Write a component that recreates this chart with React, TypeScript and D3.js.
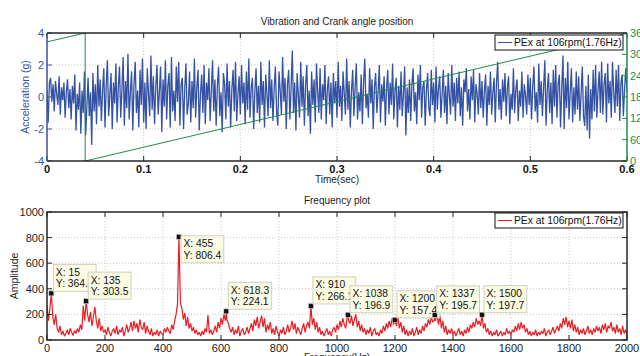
import React from "react";
import * as d3 from "d3";

// vibration samples, 0.00125 s apart
const timeStep = 0.00125;
const accel = [
  0.4, -1.6, 0.9, 1.2, -0.3, 0.8, -0.9, 1.0, 0.2, -0.5, 1.3, -1.1, 0.6, -0.2, 0.9, -1.3, 0.3, 1.1, -0.7, 0.5,
  -1.4, 0.7, -0.4, 1.4, -2.1, 0.2, -0.8, 0.9, -2.3, 0.4, -1.0, 1.6, -2.4, -0.6, 1.2, -1.2, 0.3, -3.0, 1.5, -0.9,
  0.8, -1.7, 2.0, -0.6, 1.1, -1.5, 0.4, 1.8, -1.9, 0.7, 2.3, -1.2, 0.1, 1.5, -2.0, 0.9, -0.4, 2.1, -1.6, 0.6,
  1.9, -1.3, 0.5, 2.5, -1.8, 1.0, -0.7, 2.7, -1.4, 0.3, 1.6, -2.1, 0.8, 2.2, -1.0, 0.4, -1.9, 1.7, -0.5, 2.4,
  -1.6, 0.9, -2.0, 1.8, 0.2, -1.2, 2.6, -0.8, 1.3, -1.7, 0.6, 2.0, -1.1, 0.3, 1.9, -2.2, 1.1, -0.6, 2.3, -1.4,
  0.7, 1.5, -1.9, 2.5, -0.9, 0.4, -1.5, 1.9, -0.3, 2.2, -1.8, 0.8, 1.2, -2.0, 0.5, 2.1, -1.1, -0.4, 1.6, -1.6,
  1.0, -0.7, 2.4, -1.3, 0.6, 1.7, -2.1, 0.2, 1.4, -1.0, 2.0, -1.7, 0.9, -0.2, 1.8, -1.5, 0.4, 2.3, -0.9, 1.1,
  -1.8, 0.7, 1.9, -1.2, 0.3, -2.2, 1.5, 0.8, -1.4, 2.1, -0.6, 1.0, -1.9, 0.5, 1.7, -0.9, 2.2, -1.5, 0.2, 1.3,
  -1.1, 2.0, -0.4, 0.9, -1.7, 1.6, -0.8, 2.4, -1.3, 0.6, 1.2, -2.0, 0.3, 1.8, -1.0, 0.7, -1.6, 2.2, -0.5, 1.0,
  -1.9, 1.4, 0.2, -1.2, 2.3, -0.7, 1.1, -1.5, 0.5, 1.9, -0.9, -1.8, 1.6, 0.4, -1.1, 2.5, -0.3, 1.2, -2.0, 0.8,
  1.7, -1.4, 0.6, 2.9, -1.0, 0.9, -2.1, 1.5, 0.1, -1.3, 2.2, -0.6, 1.3, -1.8, 0.7, 2.0, -1.2, 0.4, -2.3, 1.6,
  -0.5, 1.1, -1.6, 2.1, 0.3, -1.0, 1.8, -1.4, 0.8, -0.2, 2.0, -1.7, 0.5, 1.3, -1.1, 0.9, -1.9, 1.5, -0.4, 1.0,
  -1.3, 2.2, -0.6, 0.7, -1.5, 1.6, 0.2, -1.1, 2.4, -0.8, 1.0, -1.9, 0.4, 1.7, -1.2, 0.6, 2.1, -1.4, 0.3, -0.9,
  1.4, -1.7, 0.9, 2.4, -0.7, 0.2, -1.3, 1.8, -0.4, 1.1, -2.0, 0.6, 1.5, -1.0, 0.3, 2.0, -1.6, 0.8, -0.3, 1.3,
  -1.8, 0.5, 1.7, -1.1, 0.9, -0.5, 2.1, -1.4, 0.4, 1.2, -1.9, 0.7, -0.8, 1.6, -1.2, 0.2, 1.9, -2.4, 0.6, -1.0,
  1.1, -1.5, 0.8, 1.8, -0.9, 0.3, -1.7, 1.4, -0.2, 2.0, -1.3, 0.6, 1.0, -1.8, 0.4, 1.5, -0.7, -1.2, 1.7, -0.5,
  0.9, -1.6, 1.9, -0.8, 0.5, 1.3, -1.3, 0.2, 1.7, -1.0, 0.7, -1.7, 1.5, 0.1, -1.1, 2.0, -0.6, 0.9, -1.5, 1.2,
  -0.4, 1.6, -1.2, 0.6, -1.8, 1.1, 0.3, 1.8, -0.9, 0.5, -1.4, 1.3, -0.2, 1.7, -1.6, 0.8, 0.2, -1.1, 1.5, -0.7,
  1.0, -1.3, 0.4, 1.4, -1.8, 0.7, -0.5, 1.6, -1.1, 0.3, 1.2, -1.6, 0.9, 2.2, -0.8, 0.5, -1.4, 1.1, -0.3, 1.5,
  -1.2, 0.6, 1.3, -1.7, 0.2, -0.8, 1.8, -1.0, 0.5, 1.1, -1.5, 0.4, -0.6, 1.6, -1.3, 0.8, 0.1, -1.1, 1.4, -0.5,
  1.2, -1.4, 0.7, 1.9, -0.9, 0.3, -1.6, 2.1, -0.5, 1.0, -1.2, 0.6, 2.3, -1.8, 0.4, 1.5, -1.0, 0.9, -1.7, 1.7,
  -0.6, 2.0, -1.3, 0.8, 1.4, -1.9, 0.5, 2.6, -2.0, 1.2, -0.7, 2.2, -1.4, 0.3, 1.8, -1.6, 0.6, -1.1, 1.6, -0.8,
  1.3, -1.5, 0.2, 1.9, -1.2, -1.8, 0.7, -2.1, 1.4, -2.6, 0.5, -1.4, 1.7, -0.9, 2.0, -1.3, 0.4, 1.6, -1.0, 2.2,
  -1.1, 0.8, 1.5, -1.6, 2.1, -0.4, 1.0, -1.3, 2.2, 0.3, -1.0, 1.7, -0.6, 2.0, -1.5, 0.9, 1.4, -1.2, 0.5, 1.8,
  0.3,
];

// crank angle (deg) – sawtooth, wraps at 0.0395 s
const crankTime = [0, 0.0395, 0.0395, 0.6];
const crankAngle = [335, 360, 0, 359];

// spectrum amplitude, 5 Hz apart from 0 to 2000 Hz
const freqStep = 5;
const amplitude = [
  270, 150, 250, 364.4, 180, 120, 200, 90, 60, 110, 40, 70, 30, 50, 80, 40, 90, 60, 35, 75,
  50, 90, 60, 120, 80, 270, 150, 303.5, 200, 140, 220, 110, 180, 260, 150, 90, 170, 70, 110, 60,
  80, 40, 100, 60, 30, 70, 90, 50, 110, 40, 80, 60, 100, 30, 70, 120, 60, 90, 140, 70,
  150, 90, 130, 60, 160, 100, 80, 140, 50, 110, 70, 40, 90, 30, 60, 40, 80, 30, 70, 50,
  40, 90, 60, 100, 70, 50, 120, 80, 150, 200, 280, 806.4, 290, 250, 160, 210, 110, 180, 90, 130,
  70, 100, 50, 80, 40, 60, 30, 70, 40, 90, 60, 195, 50, 80, 40, 70, 110, 60, 140, 90,
  170, 120, 200, 150, 160, 130, 90, 60, 100, 40, 80, 50, 110, 30, 70, 90, 40, 60, 100, 50,
  90, 130, 70, 160, 110, 180, 90, 140, 190, 100, 170, 60, 120, 80, 140, 50, 90, 40, 110, 60,
  30, 80, 50, 100, 40, 70, 120, 60, 90, 150, 80, 130, 50, 100, 70, 40, 90, 130, 60, 110,
  140, 90, 266.1, 120, 170, 80, 140, 60, 100, 40, 70, 30, 60, 90, 40, 70, 30, 80, 100, 60,
  120, 80, 150, 100, 170, 120, 90, 180, 150, 130, 190, 110, 160, 200, 100, 150, 70, 120, 60, 90,
  40, 80, 50, 100, 30, 70, 90, 40, 60, 30, 80, 50, 110, 70, 130, 90, 150, 100, 170, 120,
  157.4, 110, 180, 90, 140, 60, 110, 40, 80, 30, 70, 40, 90, 30, 60, 100, 40, 80, 50, 110,
  70, 130, 100, 160, 120, 180, 140, 150, 150, 210, 120, 190, 90, 150, 60, 110, 40, 80, 50, 90,
  40, 70, 30, 60, 90, 40, 70, 30, 80, 50, 100, 60, 120, 90, 140, 100, 170, 120, 150, 110,
  197.7, 90, 130, 60, 90, 40, 70, 30, 60, 40, 80, 30, 50, 70, 30, 60, 40, 90, 50, 70,
  40, 80, 60, 110, 70, 130, 80, 140, 90, 120, 60, 90, 40, 70, 30, 60, 40, 80, 30, 60,
  40, 70, 50, 90, 30, 60, 80, 40, 70, 100, 50, 80, 110, 70, 130, 90, 170, 120, 180, 100,
  150, 90, 160, 70, 120, 60, 100, 40, 80, 50, 90, 40, 70, 110, 50, 80, 40, 90, 60, 110,
  70, 100, 50, 120, 80, 130, 60, 110, 90, 140, 70, 100, 50, 120, 60, 90, 40, 110, 50, 80,
  40,
];

// data tips placed on the spectrum
const tipFreq = [15, 135, 455, 618.3, 910, 1038, 1200, 1337, 1500];
const tipAmp = [364.4, 303.5, 806.4, 224.1, 266.1, 196.9, 157.4, 195.7, 197.7];

const timeTicks = [0, 0.1, 0.2, 0.3, 0.4, 0.5, 0.6];
const accelTicks = [-4, -2, 0, 2, 4];
const angleTicks = [0, 60, 120, 180, 240, 300, 360];
const freqTicks = [0, 200, 400, 600, 800, 1000, 1200, 1400, 1600, 1800, 2000];
const ampTicks = [0, 200, 400, 600, 800, 1000];
const legendLabel = "PEx at 106rpm(1.76Hz)";

const FONT = "'Liberation Sans', Arial, Helvetica, sans-serif";
const BLUE = "#3452a4";
const GREEN = "#1d8c4c";
const RED = "#ea1c24";
const AXIS = "#262626";
const TICK = 5;

let ctx: CanvasRenderingContext2D | null = null;
function textWidth(s: string, size: number) {
  if (!ctx) ctx = document.createElement("canvas").getContext("2d");
  if (!ctx) return s.length * size * 0.55;
  ctx.font = `${size}px ${FONT}`;
  return ctx.measureText(s).width;
}

function App() {
  const width = 640;
  const height = 356;
  const left = 47;
  const right = 627;
  const top1 = 33;
  const bot1 = 161;
  const top2 = 212;
  const bot2 = 340;

  const xTime = d3.scaleLinear().domain([0, 0.6]).range([left, right]);
  const yAcc = d3.scaleLinear().domain([-4, 4]).range([bot1, top1]);
  const yAng = d3.scaleLinear().domain([0, 360]).range([bot1, top1]);
  const xFreq = d3.scaleLinear().domain([0, 2000]).range([left, right]);
  const yAmp = d3.scaleLinear().domain([0, 1000]).range([bot2, top2]);

  const accelLine = d3
    .line<number>()
    .x((d, i) => xTime(i * timeStep))
    .y((d) => yAcc(d));
  const crankLine = d3
    .line<number>()
    .x((d, i) => xTime(crankTime[i]))
    .y((d) => yAng(d));

  // spectrum points, with the data tip points merged in
  const spec: [number, number][] = amplitude.map((a, i) => [i * freqStep, a]);
  tipFreq.forEach((f, i) => {
    if (!spec.some((p) => p[0] === f)) spec.push([f, tipAmp[i]]);
  });
  spec.sort((a, b) => a[0] - b[0]);
  const specLine = d3
    .line<[number, number]>()
    .x((d) => xFreq(d[0]))
    .y((d) => yAmp(d[1]));

  const tipSize = 10.3;
  const tips = tipFreq.map((f, i) => {
    const mx = xFreq(f);
    const my = yAmp(tipAmp[i]);
    const l1 = `X: ${f}`;
    const l2 = `Y: ${tipAmp[i].toFixed(1)}`;
    const w = Math.max(textWidth(l1, tipSize), textWidth(l2, tipSize)) + 5;
    const h = 27;
    let y = my - 2 - h;
    if (y < top2) y = my - 1;
    return { mx, my, l1, l2, x: mx + 2, y, w, h };
  });

  const legend = (y: number, color: string) => (
    <g>
      <rect x={495} y={y} width={128} height={15} fill="white" stroke="#111" strokeWidth={1} />
      <line x1={498} x2={512} y1={y + 7.5} y2={y + 7.5} stroke={color} strokeWidth={1} />
      <text x={514} y={y + 11.2} fontSize={10.3} fill="#111">
        {legendLabel}
      </text>
    </g>
  );

  return (
    <svg
      width={width}
      height={height}
      style={{ position: "absolute", left: 0, top: 0, background: "white" }}
      fontFamily={FONT}
    >
      <defs>
        <clipPath id="clip1">
          <rect x={left} y={top1} width={right - left} height={bot1 - top1} />
        </clipPath>
        <clipPath id="clip2">
          <rect x={left} y={top2} width={right - left} height={bot2 - top2} />
        </clipPath>
      </defs>
      <rect width={width} height={height} fill="white" />

      {/* ---------- top: vibration and crank angle ---------- */}
      <g stroke="#b8b8b8" strokeWidth={0.8} strokeDasharray="1,2">
        {timeTicks.slice(1, -1).map((t) => (
          <line key={t} x1={xTime(t)} x2={xTime(t)} y1={top1} y2={bot1} />
        ))}
        {accelTicks.slice(1, -1).map((v) => (
          <line key={v} x1={left} x2={right} y1={yAcc(v)} y2={yAcc(v)} />
        ))}
      </g>
      <g clipPath="url(#clip1)">
        <path d={accelLine(accel) || ""} fill="none" stroke={BLUE} strokeWidth={1.3} strokeLinejoin="bevel" />
        <path d={crankLine(crankAngle) || ""} fill="none" stroke={GREEN} strokeWidth={1} />
      </g>
      {timeTicks.map((t) => (
        <g key={t}>
          <line x1={xTime(t)} x2={xTime(t)} y1={bot1} y2={bot1 - TICK} stroke={AXIS} />
          <line x1={xTime(t)} x2={xTime(t)} y1={top1} y2={top1 + TICK} stroke={AXIS} />
          <text x={xTime(t)} y={bot1 + 12} textAnchor="middle" fontSize={11} fontWeight="bold" fill="#111">
            {t}
          </text>
        </g>
      ))}
      {accelTicks.map((v) => (
        <g key={v}>
          <line x1={left} x2={left + TICK} y1={yAcc(v)} y2={yAcc(v)} stroke={BLUE} />
          <text x={44} y={yAcc(v) + 4} textAnchor="end" fontSize={11} fill={BLUE}>
            {v}
          </text>
        </g>
      ))}
      {angleTicks.map((v) => (
        <g key={v}>
          <line x1={right} x2={right - TICK} y1={yAng(v)} y2={yAng(v)} stroke={GREEN} />
          <text x={630} y={yAng(v) + 4} fontSize={11} fill={GREEN}>
            {v}
          </text>
        </g>
      ))}
      <line x1={left} x2={right} y1={top1} y2={top1} stroke={AXIS} strokeWidth={1.5} />
      <line x1={left} x2={right} y1={bot1} y2={bot1} stroke={AXIS} strokeWidth={1.5} />
      <line x1={left} x2={left} y1={top1} y2={bot1} stroke={BLUE} strokeWidth={1.5} />
      <line x1={right} x2={right} y1={top1} y2={bot1} stroke={GREEN} strokeWidth={1.5} />
      {legend(35, BLUE)}
      <text x={337} y={25} textAnchor="middle" fontSize={10} fill="#222">
        Vibration and Crank angle position
      </text>
      <text x={337} y={183} textAnchor="middle" fontSize={10} fill="#222">
        Time(sec)
      </text>
      <text transform="translate(29,97) rotate(-90)" textAnchor="middle" fontSize={10.5} fill={BLUE}>
        Acceleration (g)
      </text>

      {/* ---------- bottom: frequency plot ---------- */}
      <g stroke="#b8b8b8" strokeWidth={0.8} strokeDasharray="1,2">
        {freqTicks.slice(1, -1).map((f) => (
          <line key={f} x1={xFreq(f)} x2={xFreq(f)} y1={top2} y2={bot2} />
        ))}
        {ampTicks.slice(1, -1).map((v) => (
          <line key={v} x1={left} x2={right} y1={yAmp(v)} y2={yAmp(v)} />
        ))}
      </g>
      <g clipPath="url(#clip2)">
        <path d={specLine(spec) || ""} fill="none" stroke={RED} strokeWidth={1.2} strokeLinejoin="bevel" />
      </g>
      {freqTicks.map((f) => (
        <g key={f}>
          <line x1={xFreq(f)} x2={xFreq(f)} y1={bot2} y2={bot2 - TICK} stroke={AXIS} />
          <line x1={xFreq(f)} x2={xFreq(f)} y1={top2} y2={top2 + TICK} stroke={AXIS} />
          <text x={xFreq(f)} y={bot2 + 11.5} textAnchor="middle" fontSize={11} fill="#222">
            {f}
          </text>
        </g>
      ))}
      {ampTicks.map((v) => (
        <g key={v}>
          <line x1={left} x2={left + TICK} y1={yAmp(v)} y2={yAmp(v)} stroke={AXIS} />
          <line x1={right} x2={right - TICK} y1={yAmp(v)} y2={yAmp(v)} stroke={AXIS} />
          <text x={44} y={yAmp(v) + 4} textAnchor="end" fontSize={11} fill="#222">
            {v}
          </text>
        </g>
      ))}
      <rect x={left} y={top2} width={right - left} height={bot2 - top2} fill="none" stroke={AXIS} strokeWidth={1.5} />
      {tips.map((t, i) => (
        <g key={i}>
          <rect x={t.mx - 2.5} y={t.my - 2.5} width={5} height={5} fill="#111" stroke="#ccc" strokeWidth={0.6} />
          <rect x={t.x} y={t.y} width={t.w} height={t.h} fill="#fcfce4" stroke="#cfcfc0" strokeWidth={1} />
          <text x={t.x + 2.5} y={t.y + 11.5} fontSize={tipSize} fill="#111">
            {t.l1}
          </text>
          <text x={t.x + 2.5} y={t.y + 23} fontSize={tipSize} fill="#111">
            {t.l2}
          </text>
        </g>
      ))}
      {legend(213, RED)}
      <text x={337} y={204} textAnchor="middle" fontSize={10} fill="#222">
        Frequency plot
      </text>
      <text x={337} y={361} textAnchor="middle" fontSize={10} fill="#222">
        Frequency(Hz)
      </text>
      <text transform="translate(18,276) rotate(-90)" textAnchor="middle" fontSize={10.5} fill="#222">
        Amplitude
      </text>
    </svg>
  );
}

export default App;
